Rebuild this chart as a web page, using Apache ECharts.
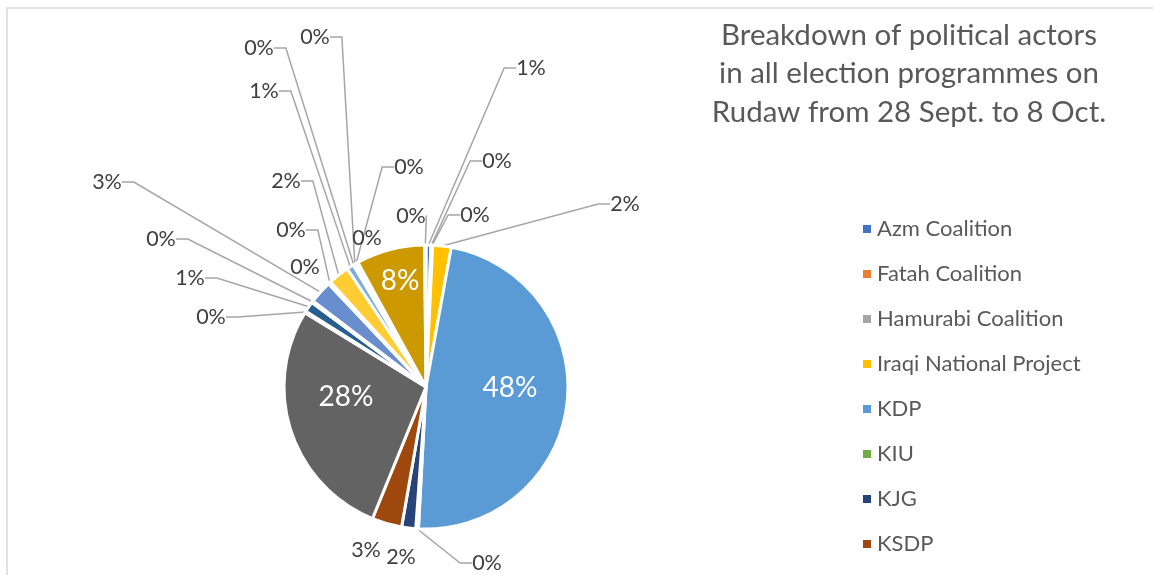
<!DOCTYPE html>
<html>
<head>
<meta charset="utf-8">
<script src="https://cdn.jsdelivr.net/npm/echarts@6/dist/echarts.min.js"></script>
<style>
  html, body { margin: 0; padding: 0; background: #fff; }
  #chart { width: 1153px; height: 575px; }
</style>
</head>
<body>
<div id="chart"></div>
<script>
// sheet order (only the first 8 fit in the legend of the original)
const actors = [
  "Azm Coalition", "Fatah Coalition", "Hamurabi Coalition", "Iraqi National Project",
  "KDP", "KIU", "KJG", "KSDP",
  "Actor 9", "Actor 10", "Actor 11", "Actor 12", "Actor 13", "Actor 14", "Actor 15",
  "Actor 16", "Actor 17", "Actor 18", "Actor 19", "Actor 20", "Actor 21", "Actor 22", "Actor 23"
];
// share of appearances, %
const shares = [
  0.55, 0.1, 0.1, 2.1,
  48.0, 0.3, 1.6, 3.4,
  27.6, 0.2, 1.2, 0.2, 2.6, 0.1, 0.2,
  2.4, 0.8, 0.1, 0.2, 0.1, 0.2, 7.8, 0.15
];
// office colour cycle
const sliceColors = [
  "#4472C4", "#ED7D31", "#A5A5A5", "#FFC000", "#5B9BD5", "#70AD47",
  "#264478", "#9E480E", "#636363", "#997300", "#255E91", "#43682B",
  "#698ED0", "#F1975A", "#B7B7B7", "#FFCD33", "#7CAFDD", "#8CC168",
  "#365B9D", "#BE6427", "#848484", "#CC9A00", "#497CAA"
];
// where the data labels were dragged to (px)
const labelSpots = [
  [531, 68], [497, 161], [475, 215], [625, 204],
  [510, 388], [487, 563], [401, 557], [366, 550],
  [346, 397], [211, 317], [190, 278], [161, 239], [107, 182], [305, 267], [291, 230],
  [286, 181], [264, 91], [259, 48], [315, 37], [409, 167], [367, 238], [400, 281], [411, 216]
];
const insideLabels = [4, 8, 21];
const noLeader = [6, 7, 13, 20];

const FONT = "Lato";

const chart = echarts.init(document.getElementById("chart"));

const pieData = actors.map((name, i) => {
  const item = { name: name, value: shares[i], itemStyle: { color: sliceColors[i] } };
  if (insideLabels.includes(i)) {
    item.label = { position: "inside", color: "#fff", fontSize: 28 };
    item.labelLine = { show: false };
  } else if (noLeader.includes(i)) {
    item.labelLine = { show: false };
  }
  return item;
});

chart.setOption({
  backgroundColor: "#fff",
  animation: false,
  title: {
    text: "Breakdown of political actors\nin all election programmes on\nRudaw from 28 Sept. to 8 Oct.",
    left: 909,
    top: 16,
    padding: 0,
    textAlign: "center",
    textStyle: {
      fontFamily: FONT,
      fontSize: 29.5,
      fontWeight: "normal",
      lineHeight: 38.5,
      color: "#595959",
    },
  },
  legend: {
    data: actors.slice(0, 8),
    orient: "vertical",
    left: 861,
    top: 218,
    padding: 0,
    icon: "rect",
    itemWidth: 10,
    itemHeight: 10,
    itemGap: 23,
    textStyle: {
      fontFamily: FONT,
      fontSize: 22,
      lineHeight: 21,
      color: "#595959",
    },
  },
  graphic: [
    {
      type: "rect",
      z: -1,
      shape: { x: 7, y: 8, width: 1200, height: 620 },
      style: { fill: "none", stroke: "#D9D9D9", lineWidth: 1.5 },
    },
  ],
  series: [
    {
      type: "pie",
      center: [426, 387],
      radius: 142,
      startAngle: 90,
      clockwise: true,
      avoidLabelOverlap: false,
      data: pieData,
      itemStyle: { borderColor: "#fff", borderWidth: 3 },
      label: {
        show: true,
        position: "outside",
        fontFamily: FONT,
        fontSize: 21.5,
        color: "#404040",
        formatter: (p) => Math.round(p.percent) + "%",
      },
      labelLine: {
        show: true,
        length: 10,
        length2: 10,
        lineStyle: { color: "#A6A6A6", width: 1.5 },
      },
      labelLayout: function (params) {
        const i = params.dataIndex;
        const spot = labelSpots[i];
        const out = { x: spot[0], y: spot[1], align: "center", verticalAlign: "middle" };
        const pts = params.labelLinePoints;
        if (pts && !noLeader.includes(i) && !insideLabels.includes(i)) {
          const a = pts[0];
          const halfW = params.labelRect.width / 2;
          const onLeft = spot[0] < a[0];
          const ex = onLeft ? spot[0] + halfW : spot[0] - halfW;
          const knee = Math.min(12, Math.abs(a[0] - ex));
          const kx = onLeft ? ex + knee : ex - knee;
          out.labelLinePoints = [a, [kx, spot[1]], [ex, spot[1]]];
        }
        return out;
      },
      emphasis: { disabled: true },
    },
  ],
});
</script>
</body>
</html>
